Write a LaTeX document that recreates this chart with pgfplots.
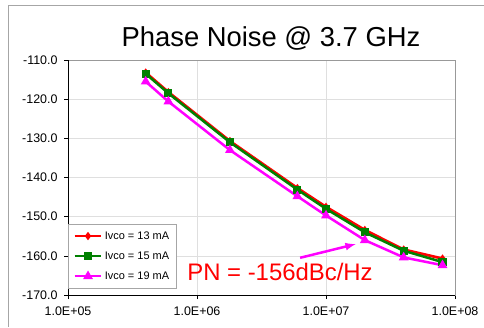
\documentclass[border=0pt]{standalone}
\usepackage{pgfplots}
\pgfplotsset{compat=1.18}
\usepackage{fontspec}
\setmainfont{Liberation Sans}
\definecolor{cred}{RGB}{255,0,0}
\definecolor{cgreen}{RGB}{0,128,0}
\definecolor{cmag}{RGB}{255,0,255}
\begin{document}
\begin{tikzpicture}[x=1bp,y=1bp]
\useasboundingbox (0,0) rectangle (484,327);
\draw[gray!70,line width=1bp] (8,0) -- (8,321) -- (484,321);
\node[font=\fontsize{27.5}{30}\selectfont] at (271,289) {Phase Noise @ 3.7 GHz};
\begin{axis}[
  at={(68bp,32bp)}, anchor=south west,
  scale only axis, width=387bp, height=235bp,
  xmode=log, log basis x=10,
  xmin=1e5, xmax=1e8, ymin=-170, ymax=-110,
  xtick={1e5,1e6,1e7,1e8},
  xticklabels={1.0E+05,1.0E+06,1.0E+07,1.0E+08},
  ytick={-170,-160,-150,-140,-130,-120,-110},
  minor xtick={},
  yticklabel style={/pgf/number format/fixed,/pgf/number format/fixed zerofill,/pgf/number format/precision=1, xshift=-3bp},
  xticklabel style={yshift=-4bp},
  /pgf/number format/assume math mode=true,
  tick label style={font=\fontsize{12.5}{14}\selectfont},
  grid=major, major grid style={gray!25, line width=0.6bp},
  axis line style={gray!80, line width=0.8bp},
  tick style={black, line width=0.6bp},
  tick align=outside, major tick length=4bp,
  xtick pos=bottom, ytick pos=left,
  legend style={at={(0,0.03)}, anchor=south west, draw=gray!70, fill=white,
    font=\fontsize{11}{13}\selectfont, row sep=7bp, inner sep=5bp},
  legend cell align=left,
  legend image code/.code={\draw[#1] (0cm,0cm) -- (0.95cm,0cm); \draw[#1,only marks] plot coordinates {(0.475cm,0cm)};},
]
\addplot[cred, line width=2.7bp, mark=diamond*, mark size=2bp] coordinates {
(4e5,-113.2) (6e5,-118.2) (1.8e6,-130.7) (6e6,-142.7) (1e7,-147.5) (2e7,-153.4) (4e7,-158.4) (8e7,-160.7)};
\addlegendentry{Ivco = 13 mA}
\addplot[cgreen, line width=2.5bp, mark=square*, mark size=2.8bp] coordinates {
(4e5,-113.5) (6e5,-118.5) (1.8e6,-131.0) (6e6,-143.1) (1e7,-148.0) (2e7,-154.0) (4e7,-158.7) (8e7,-161.6)};
\addlegendentry{Ivco = 15 mA}
\addplot[cmag, line width=2.5bp, mark=triangle*, mark size=3.2bp] coordinates {
(4e5,-115.5) (6e5,-120.6) (1.8e6,-133.0) (6e6,-144.8) (1e7,-149.7) (2e7,-156.0) (4e7,-160.4) (8e7,-162.4)};
\addlegendentry{Ivco = 19 mA}
\draw[black, line width=1bp] (rel axis cs:0,1) -- (rel axis cs:0,0) -- (rel axis cs:1,0);
\draw[cmag, line width=2.5bp, -latex] (axis cs:6.3e6,-160.5) -- (axis cs:1.7e7,-157.0);
\node[cred, font=\fontsize{24}{26}\selectfont] at (axis cs:4.4e6,-164.2) {PN = -156dBc/Hz};
\end{axis}
\end{tikzpicture}
\end{document}
